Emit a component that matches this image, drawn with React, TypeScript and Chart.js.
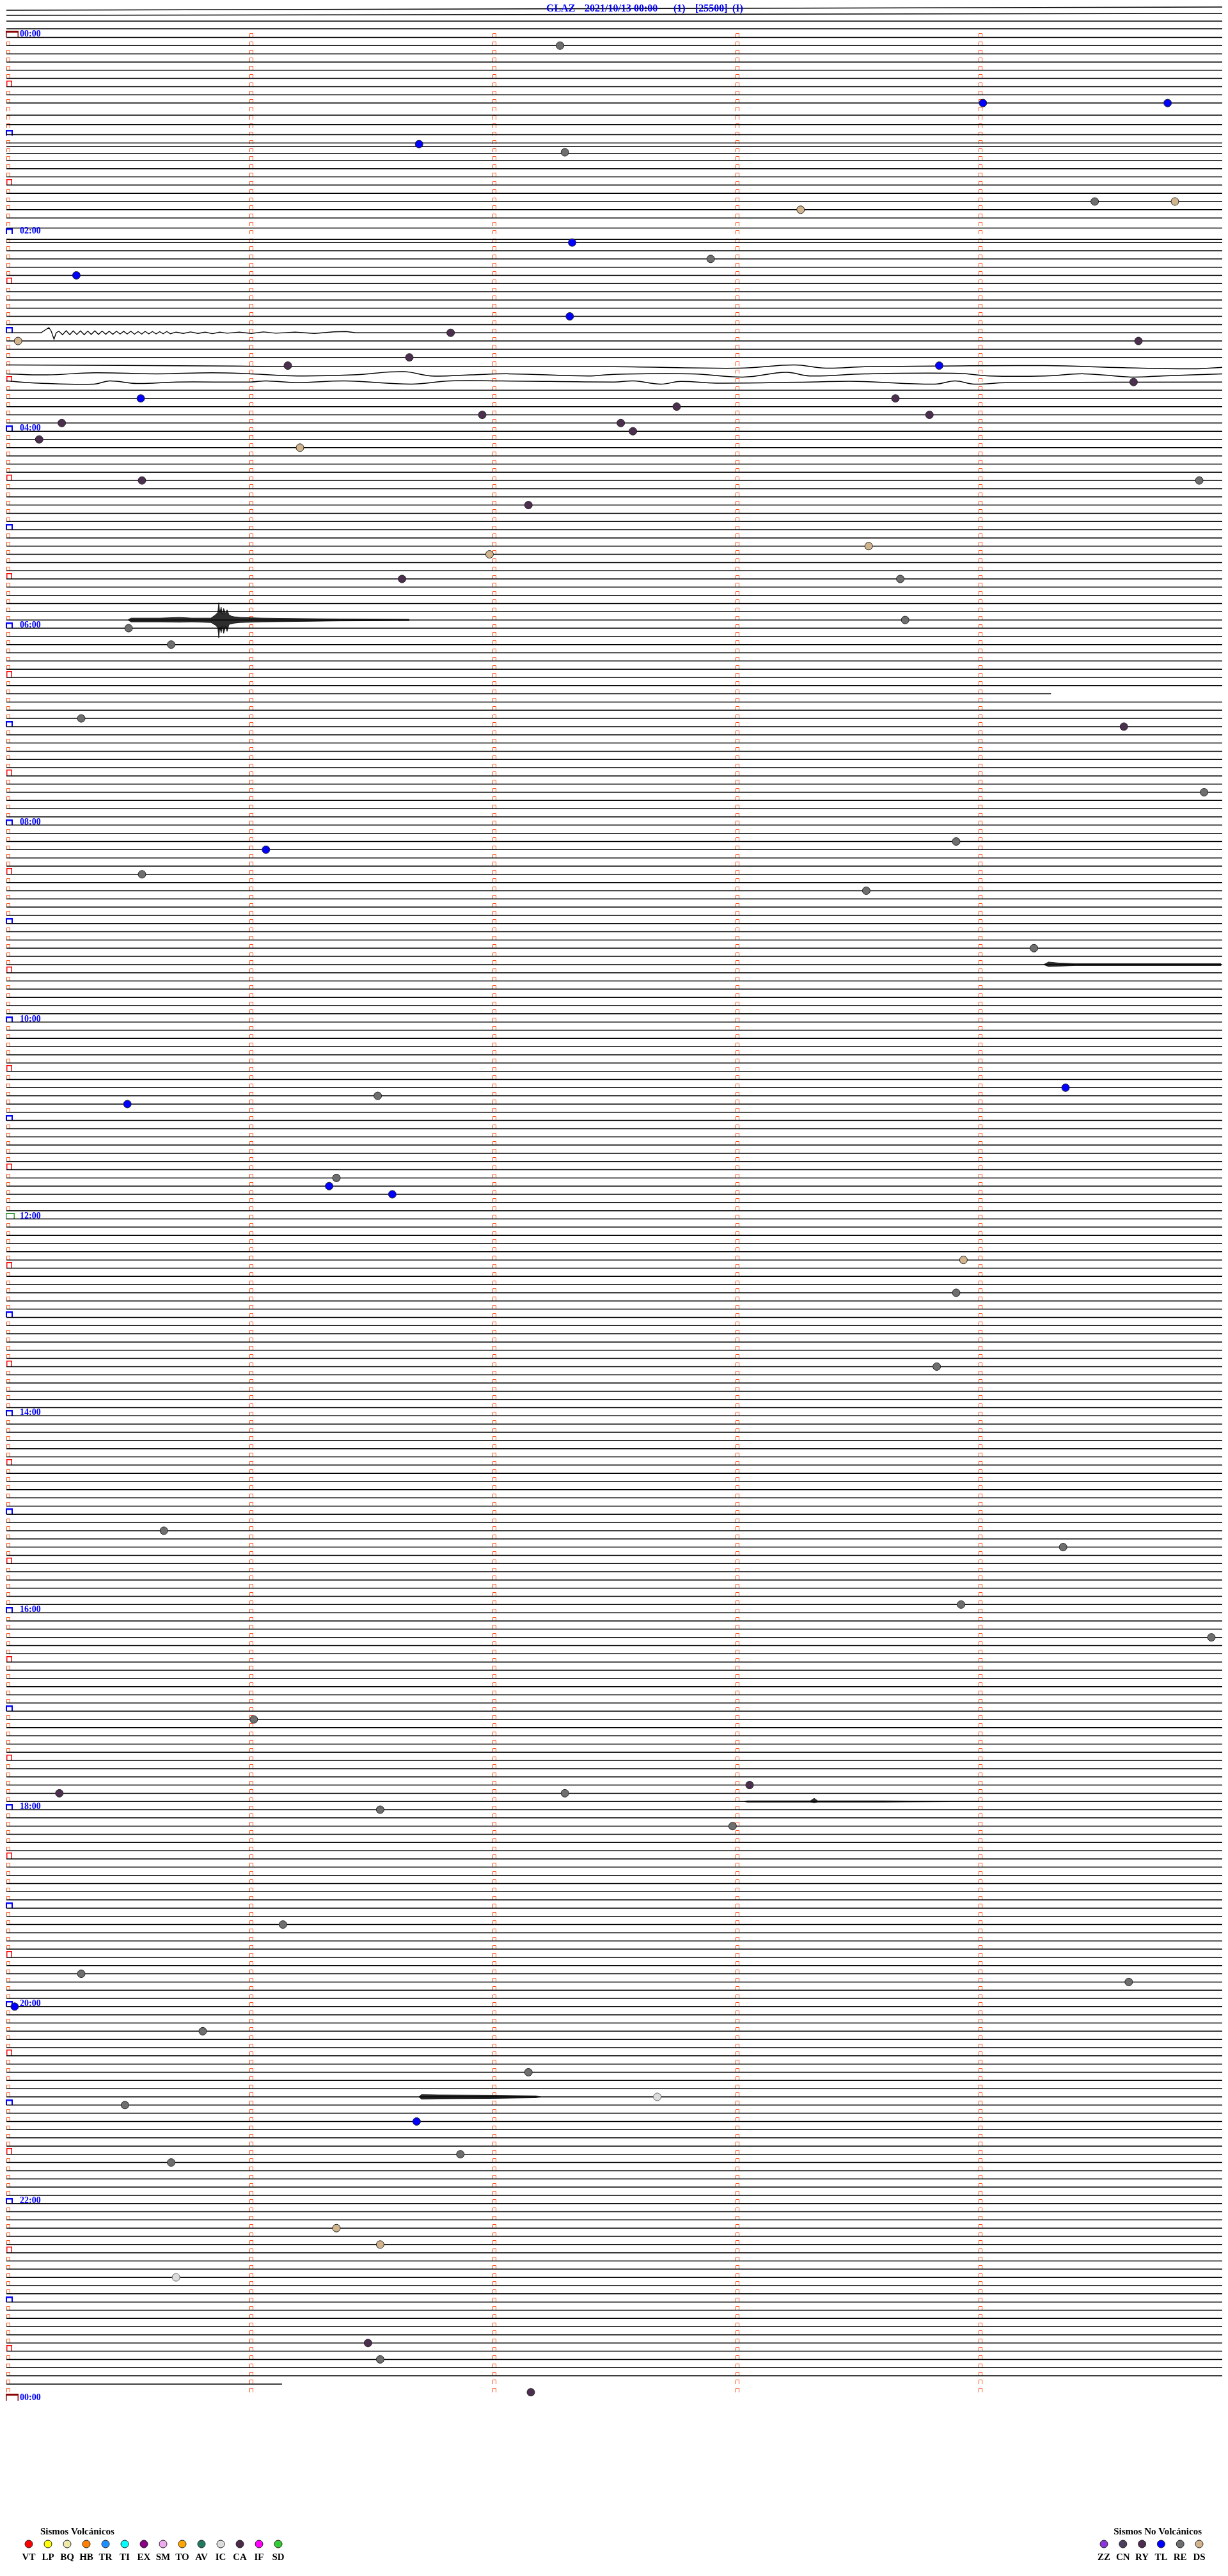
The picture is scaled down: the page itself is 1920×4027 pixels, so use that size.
import React, { useEffect, useRef } from 'react';
import { Chart, registerables } from 'chart.js';

Chart.register(...registerables);

// ---------------- DATA ----------------
const TITLE_PARTS = ['GLAZ', '2021/10/13 00:00', '(1)', '[25500]', '(I)'];
const ROWS_PER_DAY = 288; // 5-minute rows
const MINUTES_PER_ROW = 5;
const LAST_TRACE_ROW = 286;
const LAST_TRACE_END = 1.126; // minutes into the last row
const HOUR_LABELS = ['00:00', '02:00', '04:00', '06:00', '08:00', '10:00', '12:00', '14:00', '16:00', '18:00', '20:00', '22:00', '00:00'];

// rows where the record stops early (data gap)
const gapRows = [80];
const gapEnds = [4.29];

// DC drift of some rows (in px-units of amplitude)
const driftRows = [9, 10, 11, 12, 13, 14, 23, 24];
const driftValues = [6, 8, 11, 11, 4, 2, 3, 8];

// traces left over above the first row (row position at start / end)
const extraTraceStart = [-3.31, -2.69, -1.99, -1.05];
const extraTraceEnd = [-3.7, -2.92, -1.99, -1.05];

// Long-period event at 03:00 (row 36)
const LP_ROW = 36;
const lpMinute = [-0.008, 0.134, 0.150, 0.167, 0.176, 0.188, 0.197, 0.208, 0.223, 0.238, 0.253, 0.267, 0.282, 0.297, 0.312, 0.327, 0.341, 0.356, 0.371, 0.386, 0.401, 0.415, 0.430, 0.445, 0.460, 0.475, 0.489, 0.504, 0.519, 0.534, 0.549, 0.563, 0.578, 0.593, 0.608, 0.623, 0.637, 0.652, 0.667, 0.69, 0.72, 0.75, 0.78, 0.81, 0.84, 0.87, 0.90, 0.95, 1.0, 1.05, 1.10, 1.18, 1.26, 1.34, 1.39, 1.43, 1.6, 4.995];
const lpAmp = [0, 0, -4, -8, -3, 10, 0, -2.5, 3, -3.3, 3, -3, 2.7, -3, 3, -2.7, 2.5, -3, 2.5, -2.7, 2.3, -2.5, 2.3, -2.5, 2, -2.3, 2, -2.5, 2.3, -2, 2, -2.3, 1.7, -2, 1.7, -1.7, 1.5, -2, 1.5, -1, 1, -1.3, 1, -1, 1.3, -1, 0.7, -1, 1, -1.3, 0.7, -1, 1, -1.5, -2, 0, 0, 0];

// Long-period swells (rows 40-42)
const swellRowA = 40;
const swellAMinute = [-0.008, 0.932, 1.142, 2.492, 3.008, 3.234, 3.363, 3.524, 3.813, 4.266, 4.587, 4.876, 4.995];
const swellAAmp = [-1, 0.7, 1.7, 1.7, 4, -1, 4, 1.7, 0.7, 0, 3.3, 5, 2.7];
const swellRowB = 41;
const swellBMinute = [-0.008, 0.158, 0.353, 0.611, 0.837, 0.997, 1.189, 1.416, 1.626, 1.739, 1.900, 2.061, 2.384, 2.492, 2.813, 3.024, 3.200, 3.297, 3.524, 3.911, 4.039, 4.266, 4.426, 4.618, 4.747, 4.995];
const swellBAmp = [0, 1.7, -1.7, 0, -1.7, 0, 3.3, 1.7, -3.3, 3.3, 1.7, 0, 3.3, 0.8, 0, 5, -2.3, 3.3, 0, -0.7, 3.3, 3.3, 0, 5, 3.3, 0];
const swellRowC = 42;
const swellCMinute = [-0.008, 0.126, 0.353, 0.416, 0.529, 0.692, 0.997, 1.061, 1.189, 1.384, 1.658, 1.818, 2.029, 2.492, 2.574, 2.684, 2.766, 2.911, 3.297, 3.492, 3.813, 3.895, 3.974, 4.103, 4.995];
const swellCAmp = [-1.7, 1.7, 3.3, -1.7, 2.3, 0, 0, -1.7, 1, -1.7, 3.3, -1.7, -1.7, 0, -1.7, 3.3, -1, 1.7, 0, -1, 3.3, -1.7, 3.3, 1, 0];

// Earthquake near 05:56 (row 71) - envelope of the record
const QUAKE_ROW = 71;
const quakeMinute = [0.492, 0.505, 0.624, 0.703, 0.755, 0.834, 0.852, 0.862, 0.866, 0.870, 0.876, 0.880, 0.886, 0.894, 0.900, 0.908, 0.918, 0.930, 0.953, 1.045, 1.150, 1.361, 1.650];
const quakeUpper = [0, -3, -3, -4, -3, -3, -8, -12, -27, -12, -20, -9, -18, -10, -16, -8, -6, -5, -4, -3, -2.5, -1.5, -1];
const quakeLower = [0, 3, 3, 3.5, 3, 4, 8, 12, 28, 12, 20, 9, 21, 10, 18, 7, 6, 5, 4, 3, 2.5, 1.5, 1];

// Noisy segments
const NOISE1_ROW = 113;
const noise1Minute = [4.26, 4.28, 4.32, 4.39, 4.99];
const noise1Upper = [0, -4, -2.5, -1.5, -1.5];
const noise1Lower = [0, 3, 2.5, 1.5, 1.5];
const NOISE2_ROW = 215;
const noise2Minute = [3.026, 3.04, 3.30, 3.316, 3.33, 3.60, 3.992];
const noise2Upper = [0, -1, -1, -5, -1, -1, 0];
const noise2Lower = [0, 1, 1, 2, 1, 1, 0];
const NOISE3_ROW = 251;
const noise3Minute = [1.689, 1.70, 1.77, 1.99, 2.17, 2.19];
const noise3Upper = [0, -3.5, -3, -2.5, -1.5, 0];
const noise3Lower = [0, 3.5, 3, 2.5, 1.5, 0];

// Events: minute in row, row index, type
const eventMinute = [2.27, 4.01, 4.77, 1.69, 2.29, 4.47, 4.80, 3.26, 2.32, 2.89, 0.28, 2.31, 1.82, 0.04, 4.65, 1.65, 1.15, 3.83, 4.63, 0.545, 3.65, 2.75, 1.95, 3.79, 0.22, 2.52, 2.57, 0.127, 1.20, 0.55, 4.90, 2.14, 3.54, 1.98, 1.62, 3.67, 3.69, 0.495, 0.67, 0.30, 4.59, 4.92, 3.90, 1.06, 0.55, 3.53, 4.22, 4.35, 1.52, 0.49, 1.35, 1.32, 1.58, 3.93, 3.90, 3.82, 0.64, 4.34, 3.92, 4.95, 1.01, 3.05, 0.21, 2.29, 1.53, 2.98, 1.13, 0.30, 4.61, 0.026, 0.80, 2.14, 2.67, 0.48, 1.68, 1.86, 0.67, 1.35, 1.53, 0.69, 1.48, 1.53, 2.15];
const eventRow = [1, 8, 8, 13, 14, 20, 20, 21, 25, 27, 29, 34, 36, 37, 37, 39, 40, 40, 42, 44, 44, 45, 46, 46, 47, 47, 48, 49, 50, 54, 54, 57, 62, 63, 66, 66, 71, 72, 74, 83, 84, 92, 98, 99, 102, 104, 111, 128, 129, 130, 139, 140, 141, 149, 153, 162, 182, 184, 191, 195, 205, 213, 214, 214, 216, 218, 230, 236, 237, 240, 243, 248, 251, 252, 254, 258, 259, 267, 269, 273, 281, 283, 287];
const eventType = ['RE', 'TL', 'TL', 'TL', 'RE', 'RE', 'DS', 'DS', 'TL', 'RE', 'TL', 'TL', 'RY', 'DS', 'RY', 'RY', 'RY', 'TL', 'RY', 'TL', 'RY', 'RY', 'RY', 'RY', 'RY', 'RY', 'RY', 'RY', 'DS', 'RY', 'RE', 'RY', 'DS', 'DS', 'RY', 'RE', 'RE', 'RE', 'RE', 'RE', 'RY', 'RE', 'RE', 'TL', 'RE', 'RE', 'RE', 'TL', 'RE', 'TL', 'RE', 'TL', 'TL', 'DS', 'RE', 'RE', 'RE', 'RE', 'RE', 'RE', 'RE', 'RY', 'RY', 'RE', 'RE', 'RE', 'RE', 'RE', 'RE', 'TL', 'RE', 'RE', 'IC', 'RE', 'TL', 'RE', 'RE', 'DS', 'DS', 'IC', 'RY', 'RE', 'RY'];

// Legend
const volcanicCodes = ['VT', 'LP', 'BQ', 'HB', 'TR', 'TI', 'EX', 'SM', 'TO', 'AV', 'IC', 'CA', 'IF', 'SD'];
const nonVolcanicCodes = ['ZZ', 'CN', 'RY', 'TL', 'RE', 'DS'];

// ---------------- STYLE ----------------
const TYPE_COLORS: Record<string, string> = {
  VT: '#ff0000', LP: '#ffff00', BQ: '#eee8aa', HB: '#ff8000', TR: '#1e8fff', TI: '#00ffff',
  EX: '#8b008b', SM: '#eeaaee', TO: '#ffa500', AV: '#217a60', IC: '#dcdcdc', CA: '#4a2a48',
  IF: '#ff00ff', SD: '#33cc33', ZZ: '#8a36d8', CN: '#4f3f5f', RY: '#4c2f4f', TL: '#0000ff',
  RE: '#6e6e6e', DS: '#d2b48c',
};

const W = 1920;
const H = 4027;
const PLOT_LEFT = 10;
const PLOT_RIGHT = 1911;
const PLOT_TOP = 6;
const PLOT_BOTTOM = 3778;
const MINUTE0_PX = 13;
const PX_PER_MINUTE = 380;
const ROW0_PX = 57.5;
const ROW_PX = 12.83;
const X_MIN = (PLOT_LEFT - MINUTE0_PX) / PX_PER_MINUTE;
const X_MAX = (PLOT_RIGHT - MINUTE0_PX) / PX_PER_MINUTE;
const Y_MIN = -(ROW0_PX - PLOT_TOP) / ROW_PX;
const Y_MAX = Y_MIN + (PLOT_BOTTOM - PLOT_TOP) / ROW_PX;
const TRACE_START = X_MIN;
const TRACE_END = X_MAX;

const SERIF = '"Liberation Serif", "Times New Roman", serif';

type P = { x: number; y: number | null };

function waveData(row: number, mins: number[], amps: number[]): P[] {
  return mins.map((m, i) => ({ x: m, y: row + amps[i] / ROW_PX }));
}

function buildDatasets() {
  const waveRows = [LP_ROW, swellRowA, swellRowB, swellRowC];
  const trace: P[] = [];
  for (let r = 0; r <= LAST_TRACE_ROW; r++) {
    if (waveRows.includes(r)) continue;
    const di = driftRows.indexOf(r);
    const d = di >= 0 ? driftValues[di] / ROW_PX : 0;
    const gi = gapRows.indexOf(r);
    let end = r === LAST_TRACE_ROW ? LAST_TRACE_END : TRACE_END;
    if (gi >= 0) end = gapEnds[gi];
    trace.push({ x: TRACE_START, y: r + d }, { x: end, y: r + d }, { x: end, y: null });
  }
  extraTraceStart.forEach((s, i) => {
    trace.push({ x: TRACE_START, y: s }, { x: TRACE_END, y: extraTraceEnd[i] }, { x: TRACE_END, y: null });
  });

  const lineBase = {
    showLine: true,
    pointRadius: 0,
    borderColor: '#000',
    borderWidth: 1.5,
    fill: false,
    order: 3,
  };

  const datasets: any[] = [];
  const types = Array.from(new Set(eventType));
  types.forEach((t) => {
    const pts: P[] = [];
    eventType.forEach((et, i) => {
      if (et === t) pts.push({ x: eventMinute[i], y: eventRow[i] });
    });
    datasets.push({
      label: t,
      data: pts,
      showLine: false,
      pointRadius: 6,
      pointHoverRadius: 6,
      pointStyle: 'circle',
      backgroundColor: TYPE_COLORS[t],
      borderColor: t === 'IC' ? '#666' : '#222',
      borderWidth: 1,
      order: 0,
    });
  });

  datasets.push({ ...lineBase, label: 'traces', data: trace, spanGaps: false });
  datasets.push({ ...lineBase, label: 'lp', data: waveData(LP_ROW, lpMinute, lpAmp), borderWidth: 1.3 });
  datasets.push({ ...lineBase, label: 'swellA', data: waveData(swellRowA, swellAMinute, swellAAmp), tension: 0.4 });
  datasets.push({ ...lineBase, label: 'swellB', data: waveData(swellRowB, swellBMinute, swellBAmp), tension: 0.4 });
  datasets.push({ ...lineBase, label: 'swellC', data: waveData(swellRowC, swellCMinute, swellCAmp), tension: 0.4 });

  const bands: [number, number[], number[], number[]][] = [
    [QUAKE_ROW, quakeMinute, quakeUpper, quakeLower],
    [NOISE1_ROW, noise1Minute, noise1Upper, noise1Lower],
    [NOISE2_ROW, noise2Minute, noise2Upper, noise2Lower],
    [NOISE3_ROW, noise3Minute, noise3Upper, noise3Lower],
  ];
  bands.forEach(([row, mins, up, lo], k) => {
    const upIndex = datasets.length;
    datasets.push({
      label: 'bandU' + k,
      data: waveData(row, mins, up),
      showLine: true,
      pointRadius: 0,
      borderColor: '#000',
      borderWidth: 0.8,
      fill: false,
      order: 1,
    });
    datasets.push({
      label: 'bandL' + k,
      data: waveData(row, mins, lo),
      showLine: true,
      pointRadius: 0,
      borderColor: '#000',
      borderWidth: 0.8,
      backgroundColor: 'rgba(0,0,0,0.82)',
      fill: upIndex,
      order: 1,
    });
  });
  return datasets;
}

function drawTick(ctx: CanvasRenderingContext2D, px: number, py: number) {
  const x0 = Math.round(px - 3) + 0.5;
  const x1 = x0 + 5;
  const yt = Math.round(py - 6.5) + 0.5;
  const yb = Math.round(py);
  ctx.strokeStyle = '#ff4a10';
  ctx.lineWidth = 1;
  ctx.beginPath();
  ctx.moveTo(x0, yb);
  ctx.lineTo(x0, yt);
  ctx.lineTo(x1, yt);
  ctx.lineTo(x1, yb);
  ctx.stroke();
}

function drawBox(ctx: CanvasRenderingContext2D, px: number, py: number, dl: number, dr: number, h: number, color: string, side: number, top: number) {
  const xl = Math.round(px + dl);
  const xr = Math.round(px + dr);
  const yt = Math.round(py - h);
  const yb = Math.round(py);
  ctx.fillStyle = color;
  ctx.fillRect(xl, yt, xr - xl, top);
  ctx.fillRect(xl, yt, side, yb - yt);
  ctx.fillRect(xr - side, yt, side, yb - yt);
}

const helicorderPlugin = {
  id: 'helicorder',
  beforeDatasetsDraw(chart: any) {
    const { ctx, scales } = chart;
    const xs = scales.x;
    const ys = scales.y;
    ctx.save();
    for (let r = 0; r <= ROWS_PER_DAY; r++) {
      const py = ys.getPixelForValue(r);
      for (let c = 0; c < MINUTES_PER_ROW; c++) {
        const px = xs.getPixelForValue(c);
        if (c === 0 && r % 6 === 0) {
          if (r % ROWS_PER_DAY === 0) drawBox(ctx, px, py, -4, 16, 10.5, '#8b0000', 1.5, 3);
          else if (r === ROWS_PER_DAY / 2) drawBox(ctx, px, py, -4, 10, 9.5, '#3a9a3a', 1.5, 2);
          else if (r % 12 === 0) drawBox(ctx, px, py, -4, 7, 9, '#0000ff', 2, 2.5);
          else drawBox(ctx, px, py, -3, 6, 9.5, '#ff0000', 1.5, 1.5);
        } else if (r < ROWS_PER_DAY) {
          drawTick(ctx, px, py);
        }
      }
    }
    ctx.restore();
  },
  afterDraw(chart: any) {
    const { ctx, scales } = chart;
    const xs = scales.x;
    const ys = scales.y;
    ctx.save();
    ctx.font = `bold 14px ${SERIF}`;
    ctx.fillStyle = '#0000ff';
    ctx.textAlign = 'left';
    ctx.textBaseline = 'alphabetic';
    HOUR_LABELS.forEach((lab, i) => {
      const py = ys.getPixelForValue(i * 24);
      const px = xs.getPixelForValue(0);
      ctx.fillText(lab, px + 18, py - 1);
    });
    ctx.font = `bold 16px ${SERIF}`;
    const titleX = [854, 914, 1053, 1087, 1145];
    TITLE_PARTS.forEach((t, i) => ctx.fillText(t, titleX[i], 18));
    ctx.fillStyle = '#000';
    ctx.font = `bold 15px ${SERIF}`;
    ctx.fillText('Sismos Volcánicos', 63, 3962);
    ctx.textAlign = 'right';
    ctx.fillText('Sismos No Volcánicos', 1879, 3962);
    const dot = (cx: number, cy: number, color: string) => {
      ctx.beginPath();
      ctx.ellipse(cx, cy, 6, 6, 0, 0, Math.PI * 2);
      ctx.fillStyle = color;
      ctx.fill();
      ctx.lineWidth = 1;
      ctx.strokeStyle = '#222';
      ctx.stroke();
    };
    ctx.textAlign = 'center';
    volcanicCodes.forEach((code, i) => {
      const cx = 45 + 30 * i;
      dot(cx, 3977, TYPE_COLORS[code]);
      ctx.fillStyle = '#000';
      ctx.fillText(code, cx, 4002);
    });
    nonVolcanicCodes.forEach((code, i) => {
      const cx = 1726 + 29.8 * i;
      dot(cx, 3977, TYPE_COLORS[code]);
      ctx.fillStyle = '#000';
      ctx.fillText(code, cx, 4002);
    });
    ctx.restore();
  },
};

export default function App() {
  const ref = useRef<HTMLCanvasElement | null>(null);
  useEffect(() => {
    document.body.style.margin = '0';
    document.body.style.background = '#fff';
    const canvas = ref.current;
    if (!canvas) return;
    const chart = new Chart(canvas, {
      type: 'scatter',
      data: { datasets: buildDatasets() },
      options: {
        animation: false,
        responsive: false,
        maintainAspectRatio: false,
        devicePixelRatio: 1,
        events: [],
        layout: { padding: { left: PLOT_LEFT, right: W - PLOT_RIGHT, top: PLOT_TOP, bottom: H - PLOT_BOTTOM } },
        scales: {
          x: { type: 'linear', display: false, min: X_MIN, max: X_MAX },
          y: { type: 'linear', display: false, reverse: true, min: Y_MIN, max: Y_MAX },
        },
        plugins: {
          legend: { display: false },
          tooltip: { enabled: false },
          title: { display: false },
        },
      },
      plugins: [helicorderPlugin],
    } as any);
    return () => chart.destroy();
  }, []);
  return (
    <div style={{ width: W, height: H, background: '#fff' }}>
      <canvas ref={ref} width={W} height={H} style={{ display: 'block', width: W, height: H }} />
    </div>
  );
}
